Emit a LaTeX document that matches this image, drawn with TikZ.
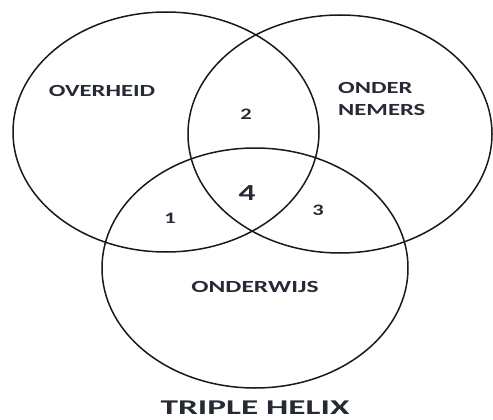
\documentclass[tikz,border=0pt]{standalone}
\usepackage{fontspec}
\setmainfont{Carlito}
\definecolor{txt}{RGB}{38,42,52}
\tikzset{
  circ/.style={draw=black!90, line width=1.5pt},
  lbl/.style={text=txt, inner sep=0pt, anchor=center},
}
\begin{document}
\begin{tikzpicture}[x=1pt,y=-1pt]
\useasboundingbox (0,0) rectangle (493,420);
\draw[circ] (166,132) ellipse [x radius=153, y radius=120];
\draw[circ] (340,134) ellipse [x radius=152, y radius=119];
\draw[circ] (255,268) ellipse [x radius=153, y radius=120];
\node[lbl, font=\fontsize{17}{20}\selectfont\bfseries] (ov) at (102,91) {\scalebox{1.45}[1]{OVERHEID}};
\node[lbl, font=\fontsize{17}{20}\selectfont\bfseries, align=left, anchor=north west] (on) at (338,82) {\scalebox{1.45}[1]{ONDER}\\[2pt]\scalebox{1.45}[1]{NEMERS}};
\node[lbl, font=\fontsize{17}{20}\selectfont\bfseries] (ow) at (255,287) {\scalebox{1.5}[1]{ONDERWIJS}};
\node[lbl, font=\fontsize{16}{19}\selectfont\bfseries] (n2) at (246,114) {\scalebox{1.4}[1]{2}};
\node[lbl, font=\fontsize{16}{19}\selectfont\bfseries] (n1) at (170,218) {\scalebox{1.4}[1]{1}};
\node[lbl, font=\fontsize{16}{19}\selectfont\bfseries] (n3) at (318,210) {\scalebox{1.4}[1]{3}};
\node[lbl, font=\fontsize{23}{27}\selectfont\bfseries] (n4) at (247,193) {\scalebox{1.45}[1]{4}};
\node[lbl, font=\fontsize{21}{25}\selectfont\bfseries, anchor=base] (th) at (255,414) {\scalebox{1.68}[1]{TRIPLE HELIX}};
\end{tikzpicture}
\end{document}
